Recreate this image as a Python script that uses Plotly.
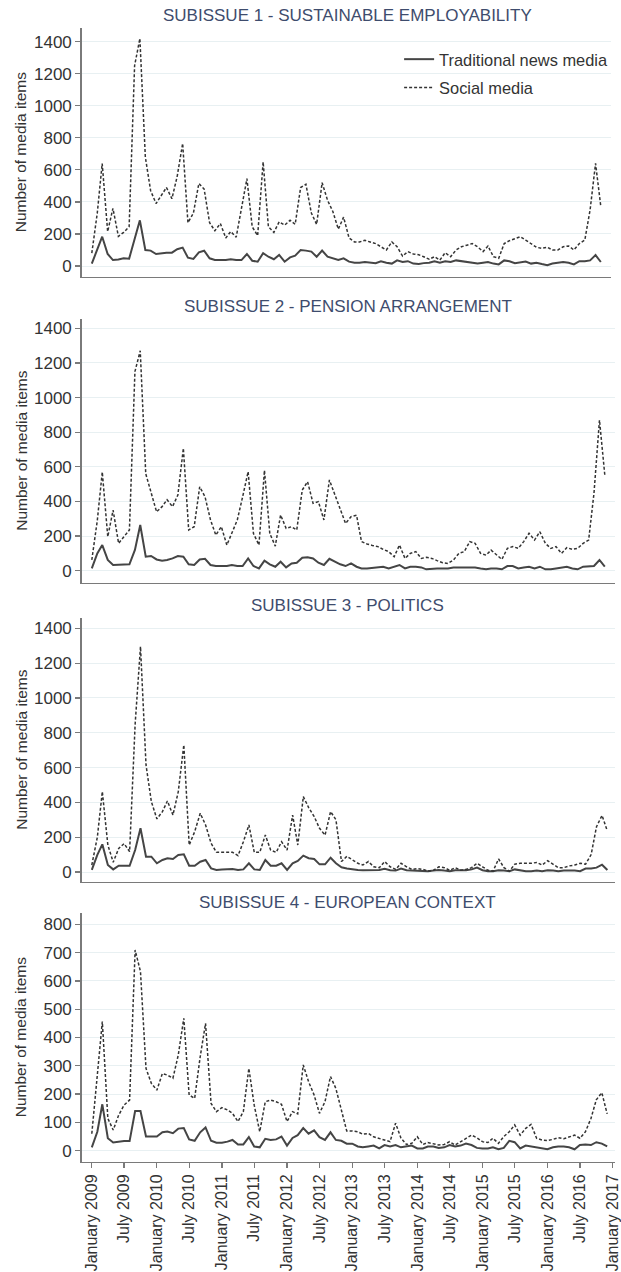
import plotly.graph_objects as go
import pandas as pd

# ---------------- data ----------------
months = pd.date_range("2009-01-01", "2016-12-01", freq="MS")

titles = [
    "SUBISSUE 1 - SUSTAINABLE EMPLOYABILITY",
    "SUBISSUE 2 - PENSION ARRANGEMENT",
    "SUBISSUE 3 - POLITICS",
    "SUBISSUE 4 - EUROPEAN CONTEXT",
]
series_names = ["Traditional news media", "Social media"]
y_title = "Number of media items"

trad_1 = [15, 110, 183, 75, 37, 40, 48, 46, 175, 285,
          100, 96, 75, 80, 83, 83, 105, 115, 52, 44,
          85, 95, 48, 37, 37, 37, 42, 37, 37, 75,
          33, 27, 80, 58, 42, 69, 27, 54, 65, 100,
          96, 90, 58, 96, 58, 48, 37, 48, 27, 21,
          20, 25, 22, 18, 30, 20, 15, 35, 25, 30, 15,
          12, 18, 20, 30, 20, 30, 25, 35, 30, 25,
          20, 15, 20, 25, 15, 10, 35, 30, 18, 25,
          28, 15, 20, 12, 5, 15, 20, 25, 20, 10,
          30, 30, 35, 68, 25]
social_1 = [80, 330, 640, 215, 360, 185, 210, 245, 1250, 1420,
            680, 470, 390, 440, 490, 420, 560, 765, 270, 330,
            515, 480, 270, 220, 265, 175, 215, 180, 370, 545,
            245, 190, 650, 245, 210, 275, 255, 285, 260, 490,
            510, 330, 260, 520, 410, 340, 230, 305, 175, 150,
            150, 160, 150, 140, 120, 100, 150, 120, 62, 90, 75,
            70, 58, 42, 58, 37, 83, 58, 100, 120, 130,
            140, 120, 90, 125, 58, 48, 140, 158, 173, 183,
            162, 140, 117, 110, 117, 100, 100, 120, 125, 100,
            140, 162, 350, 640, 370]

trad_2 = [13, 100, 148, 62, 33, 33, 33, 37, 120, 264,
          81, 85, 65, 58, 62, 71, 85, 81, 37, 33,
          65, 69, 33, 27, 27, 27, 33, 27, 27, 71,
          27, 13, 58, 37, 23, 52, 19, 42, 46, 75,
          77, 71, 46, 33, 69, 52, 37, 27, 42, 23,
          13, 13, 16, 19, 23, 13, 23, 33, 13, 23, 23,
          19, 8, 8, 12, 13, 13, 19, 19, 23, 23,
          19, 13, 8, 13, 13, 8, 27, 27, 13, 19,
          23, 13, 23, 8, 8, 13, 19, 23, 13, 8,
          23, 27, 27, 62, 23]
social_2 = [62, 290, 570, 196, 350, 158, 196, 235, 1150, 1270,
            560, 447, 340, 370, 410, 370, 437, 707, 235, 254,
            485, 427, 293, 206, 254, 148, 215, 293, 427, 572,
            215, 148, 580, 215, 142, 322, 245, 254, 235, 466,
            514, 389, 399, 293, 524, 440, 350, 273, 312, 320,
            168, 154, 146, 139, 123, 110, 81, 148, 71, 100, 110,
            71, 77, 71, 58, 46, 42, 62, 100, 110, 168,
            158, 100, 90, 119, 90, 65, 129, 139, 129, 168,
            216, 177, 225, 158, 129, 139, 100, 133, 123, 129,
            158, 177, 447, 870, 553]

trad_3 = [12, 98, 159, 40, 15, 36, 36, 36, 126, 251,
          88, 88, 50, 69, 79, 75, 98, 102, 36, 36,
          59, 69, 21, 12, 15, 17, 17, 12, 15, 50,
          15, 12, 69, 36, 36, 50, 12, 50, 63, 94,
          79, 75, 44, 44, 82, 50, 27, 20, 15, 12,
          10, 10, 8, 12, 18, 10, 8, 20, 10, 8,
          10, 5, 5, 8, 12, 8, 5, 10, 8, 10,
          15, 25, 10, 5, 5, 10, 8, 5, 15, 10,
          5, 5, 8, 5, 10, 8, 5, 8, 10, 8,
          5, 20, 20, 25, 42, 12]
social_3 = [40, 200, 462, 155, 56, 136, 163, 117, 850, 1295,
            615, 404, 305, 347, 408, 327, 462, 730, 155, 232,
            337, 270, 165, 113, 113, 113, 113, 94, 174, 270,
            113, 113, 212, 126, 113, 174, 126, 327, 155, 433,
            370, 318, 251, 212, 347, 300, 60, 90, 70, 50,
            40, 60, 30, 25, 60, 30, 15, 50, 30, 15,
            20, 15, 5, 10, 30, 25, 10, 25, 10, 15,
            25, 50, 30, 10, 5, 75, 25, 5, 45, 50,
            50, 50, 55, 40, 65, 45, 25, 25, 35, 40,
            50, 45, 100, 260, 325, 235]

trad_4 = [12, 67, 164, 44, 29, 32, 34, 34, 140, 140,
          50, 50, 50, 65, 68, 62, 78, 80, 40, 35,
          65, 82, 35, 28, 28, 32, 38, 22, 22, 48,
          15, 12, 42, 38, 40, 50, 18, 45, 55, 80,
          60, 72, 48, 38, 65, 38, 35, 25, 25, 15,
          12, 15, 18, 8, 20, 15, 20, 12, 15, 18,
          8, 8, 15, 15, 10, 12, 20, 15, 18, 25,
          20, 10, 8, 8, 12, 5, 10, 35, 30, 8,
          18, 15, 10, 8, 5, 12, 15, 15, 12, 5,
          20, 22, 20, 30, 25, 15]
social_4 = [60, 255, 456, 114, 73, 126, 161, 179, 709, 633,
            291, 238, 214, 273, 267, 256, 338, 468, 197, 185,
            332, 450, 167, 138, 152, 144, 132, 103, 138, 291,
            161, 67, 173, 179, 173, 164, 103, 138, 130, 303,
            244, 197, 132, 173, 262, 220, 140, 70, 70, 67,
            58, 61, 49, 44, 38, 32, 97, 45, 22, 26,
            49, 22, 29, 25, 20, 22, 32, 20, 32, 44,
            55, 46, 32, 29, 44, 26, 50, 67, 91, 55,
            79, 93, 44, 38, 36, 40, 46, 42, 48, 55,
            44, 67, 114, 180, 205, 130]

trad_all = [trad_1, trad_2, trad_3, trad_4]
social_all = [social_1, social_2, social_3, social_4]
y_max_ticks = [1400, 1400, 1400, 800]
y_steps = [200, 200, 200, 100]

# ---------------- layout geometry (pixels) ----------------
W, H = 621, 1272
LEFT = 82.3
FIRST_PX = 92.7
panels = [
    dict(top=28.3, bottom=276.7, right=616.7, last=606.7, y0=266.0, ytop=41.7, title_y=15.0),
    dict(top=319.3, bottom=582.7, right=621.0, last=610.7, y0=570.7, ytop=328.3, title_y=306.7),
    dict(top=618.3, bottom=881.7, right=621.0, last=613.3, y0=872.0, ytop=628.3, title_y=605.7),
    dict(top=913.3, bottom=1161.7, right=621.0, last=613.1, y0=1150.7, ytop=924.3, title_y=902.7),
]

FONT = "Liberation Sans, Arial, sans-serif"
AXIS_COL = "#7a7a7a"
GRID_COL = "#e8f0f2"
TITLE_COL = "#3e4c6d"

fig = go.Figure()
layout = dict(
    width=W, height=H, autosize=False,
    margin=dict(l=0, r=0, t=0, b=0),
    paper_bgcolor="white", plot_bgcolor="white",
    font=dict(family=FONT, size=16, color="#333333"),
    showlegend=True,
    legend=dict(x=403 / W, y=1 - 42 / H, xanchor="left", yanchor="top",
                bgcolor="rgba(0,0,0,0)", font=dict(size=16.4, color="#333333"),
                tracegroupgap=4, traceorder="grouped"),
    annotations=[],
)

t0 = months[0]
tl = months[-1]
span_ms = (tl - t0).total_seconds() * 1000.0

for k, p in enumerate(panels):
    n = k + 1
    xa = "x" if n == 1 else f"x{n}"
    ya = "y" if n == 1 else f"y{n}"
    ms_per_px = span_ms / (p["last"] - FIRST_PX)
    x_start = t0 - pd.Timedelta(milliseconds=(FIRST_PX - LEFT) * ms_per_px)
    x_end = t0 + pd.Timedelta(milliseconds=(p["right"] - FIRST_PX) * ms_per_px)
    scale = (p["y0"] - p["ytop"]) / y_max_ticks[k]
    y_min = -(p["bottom"] - p["y0"]) / scale
    y_max = y_max_ticks[k] + (p["ytop"] - p["top"]) / scale

    fig.add_trace(go.Scatter(
        x=months, y=trad_all[k], mode="lines", name=series_names[0],
        line=dict(color="#454545", width=2.0),
        xaxis=xa, yaxis=ya, showlegend=(n == 1), legendgroup="a"))
    fig.add_trace(go.Scatter(
        x=months, y=social_all[k], mode="lines", name=series_names[1],
        line=dict(color="#333333", width=1.5, dash="3px,2px"),
        xaxis=xa, yaxis=ya, showlegend=(n == 1), legendgroup="b"))

    xkey = "xaxis" if n == 1 else f"xaxis{n}"
    ykey = "yaxis" if n == 1 else f"yaxis{n}"
    xdict = dict(
        type="date", domain=[LEFT / W, p["right"] / W], anchor=ya,
        range=[x_start.strftime("%Y-%m-%d %H:%M:%S"), x_end.strftime("%Y-%m-%d %H:%M:%S")],
        showgrid=False, zeroline=False, showline=True, linecolor=AXIS_COL, linewidth=1.3,
        fixedrange=True,
    )
    if n == 4:
        xdict.update(ticks="outside", ticklen=5, tickcolor=AXIS_COL, tickwidth=1.2,
                     tick0="2009-01-01", dtick="M6", tickformat="%B %Y",
                     tickangle=-90, tickfont=dict(size=16, color="#333333"),
                     showticklabels=True, ticklabeloverflow="allow")
    else:
        xdict.update(ticks="", showticklabels=False)
    layout[xkey] = xdict
    layout[ykey] = dict(
        domain=[1 - p["bottom"] / H, 1 - p["top"] / H], anchor=xa,
        range=[y_min, y_max], tickmode="linear", tick0=0, dtick=y_steps[k],
        showgrid=True, gridcolor=GRID_COL, gridwidth=1,
        zeroline=False, showline=True, linecolor=AXIS_COL, linewidth=1.3,
        ticks="outside", ticklen=5, tickcolor=AXIS_COL, tickwidth=1.2,
        tickfont=dict(size=17, color="#333333"), fixedrange=True,
    )
    layout["annotations"].append(dict(
        text=titles[k], x=351 / W, y=1 - p["title_y"] / H, xref="paper", yref="paper",
        xanchor="center", yanchor="middle", showarrow=False,
        font=dict(size=17, color=TITLE_COL, family=FONT)))
    layout["annotations"].append(dict(
        text=y_title, x=21 / W, y=1 - ((p["top"] + p["bottom"]) / 2) / H,
        xref="paper", yref="paper", xanchor="center", yanchor="middle",
        textangle=-90, showarrow=False,
        font=dict(size=15.5, color="#333333", family=FONT)))

fig.update_layout(**layout)
fig.write_html(
    "out.html",
    config={"displayModeBar": False, "staticPlot": True},
    post_script="document.body.style.margin='0';document.body.style.padding='0';"
                "document.documentElement.style.overflow='hidden';",
)
